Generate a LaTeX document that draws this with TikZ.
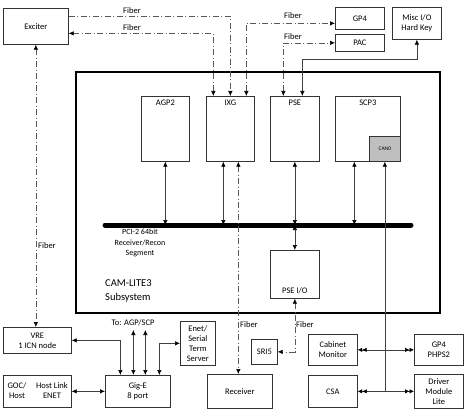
\documentclass[tikz,border=0pt]{standalone}
\usepackage{fontspec}
\setmainfont{Carlito}
\usetikzlibrary{arrows.meta}
\tikzset{
  box/.style={draw=black!80, line width=0.7pt, inner sep=0pt, anchor=north west, align=center, font=\fontsize{8.5}{10}\selectfont},
  tb/.style={font=\fontsize{8.5}{10}\selectfont, inner sep=1pt},
  fiber/.style={draw=black!65, line width=0.65pt, dash pattern=on 6pt off 2.5pt on 1pt off 2.5pt},
  conn/.style={draw=black!75, line width=0.65pt},
  tip/.style={{Latex[length=5pt,width=4.5pt,black]}-{Latex[length=5pt,width=4.5pt,black]}},
  endtip/.style={-{Latex[length=5pt,width=4.5pt,black]}},
  dtip/.style={{Latex[length=4.5pt,width=4.5pt,black] Latex[length=4.5pt,width=4.5pt,black]}-{Latex[length=4.5pt,width=4.5pt,black] Latex[length=4.5pt,width=4.5pt,black]}},
}
\begin{document}
\begin{tikzpicture}[x=1pt,y=-1pt]
\useasboundingbox (0,0) rectangle (469,412);
% main box
\draw[line width=2.6pt] (76,72) rectangle (440,313);
% boxes top
\node[box, minimum width=65pt, minimum height=36pt] (exc) at (3,8) {Exciter};
\node[box, minimum width=49pt, minimum height=22pt] (gp4) at (335,7) {GP4};
\node[box, minimum width=49pt, minimum height=17pt] (pac) at (335,34) {PAC};
\node[box, minimum width=49pt, minimum height=32pt] (misc) at (392,7) {Misc I/O\\Hard Key};
% inner boxes
\node[box, minimum width=48pt, minimum height=65pt, label={[anchor=north,tb,yshift=-3pt]north:AGP2}] (agp) at (141,96) {};
\node[box, minimum width=48pt, minimum height=65pt, label={[anchor=north,tb,yshift=-3pt]north:IXG}] (ixg) at (206,96) {};
\node[box, minimum width=49pt, minimum height=65pt, label={[anchor=north,tb,yshift=-3pt]north:PSE}] (pse) at (270,96) {};
\node[box, minimum width=65pt, minimum height=65pt, label={[anchor=north,tb,yshift=-3pt]north:SCP3}] (scp) at (335,96) {};
\node[box, fill=black!25, minimum width=31pt, minimum height=25pt, font=\fontsize{5.5}{6}\selectfont] (can) at (369,136) {CAN0};
\node[box, minimum width=49pt, minimum height=48pt, label={[anchor=south,tb,yshift=4pt]south:PSE I/O}] (pseio) at (270,250) {};
% bus
\coordinate (busL) at (105,225);
\coordinate (busR) at (411,225);
\draw[line width=5pt, line cap=round] (busL) -- (busR);
\node[tb, align=center, anchor=north, font=\fontsize{8}{10.5}\selectfont] (buslbl) at (140,228) {PCI-2 64bit\\Receiver/Recon\\Segment};
\node[anchor=north west, align=left, inner sep=0pt, font=\fontsize{10.5}{14}\selectfont] (cam) at (105,279) {CAM-LITE3\\Subsystem};
% bottom boxes
\node[box, minimum width=68pt, minimum height=26pt] (vre) at (3,327) {VRE\\1 ICN node};
\node[box, minimum width=68pt, minimum height=32pt] (goc) at (3,375) {};
\node[tb, align=center] (gocl) at (17,391) {GOC/\\Host};
\node[tb, align=center] (gocr) at (52,391) {Host Link\\ENET};
\node[box, minimum width=65pt, minimum height=32pt] (gig) at (105,375) {Gig-E\\8 port};
\node[box, minimum width=35pt, minimum height=44pt] (enet) at (180,321) {Enet/\\Serial\\Term\\Server};
\node[box, minimum width=65pt, minimum height=34pt] (rec) at (207,374) {Receiver};
\node[box, minimum width=26pt, minimum height=25pt] (sri) at (251,339) {SRI5};
\node[box, minimum width=49pt, minimum height=31pt] (cab) at (308,334) {Cabinet\\Monitor};
\node[box, minimum width=49pt, minimum height=31pt] (gpb) at (414,334) {GP4\\PHPS2};
\node[box, minimum width=49pt, minimum height=32pt] (csa) at (308,375) {CSA};
\node[box, minimum width=49pt, minimum height=34pt] (dml) at (414,374) {Driver\\Module\\Lite};
\node[tb] (tolbl) at (133,323) {To: AGP/SCP};
% fiber connectors top
\draw[fiber, endtip] ([yshift=10pt]exc.east) -| (ixg.north);
\draw[fiber, tip] ([yshift=-7pt]exc.east) -| ([xshift=-17pt]ixg.north);
\draw[fiber, tip] ([xshift=16pt]ixg.north) |- ([yshift=-5pt]gp4.west);
\draw[fiber, tip] ([xshift=-11.5pt]pse.north) |- (pac.west);
\draw[conn, tip] (misc.south) -- (misc.south |- 0,59) -| ([xshift=7.5pt]pse.north);
\node[tb] (f1) at (132,11) {Fiber};
\node[tb] (f2) at (132,28) {Fiber};
\node[tb] (f3) at (293,16) {Fiber};
\node[tb] (f4) at (293,37) {Fiber};
% bus connectors
\draw[conn, tip] (agp.south) -- (agp.south |- busL);
\draw[conn, tip] ([xshift=-7pt]ixg.south) -- ([xshift=-7pt]ixg.south |- busL);
\draw[conn, tip] (pse.south) -- (pse.south |- busL);
\draw[conn, tip] ([xshift=-13.5pt]scp.south) -- ([xshift=-13.5pt]scp.south |- busL);
\draw[conn, tip] (pse.south |- busL) -- (pseio.north);
% fiber lower
\draw[fiber, tip] ([xshift=8pt]ixg.south) -- ([xshift=8pt]ixg.south |- rec.north);
\node[tb, anchor=west] (f5) at (239,325) {Fiber};
\draw[fiber, tip] (pseio.south) |- (sri.east);
\node[tb, anchor=west] (f6) at (295,325) {Fiber};
\draw[fiber, tip] (exc.south) -- (exc.south |- vre.north);
\node[tb, anchor=west] (f7) at (37,246) {Fiber};
% CAN0 line
\draw[conn, endtip] (can.south |- csa.east) -- (can.south);
\draw[conn, dtip] (cab.east) -- (gpb.west);
\draw[conn, dtip] (csa.east) -- (dml.west);
% Gig-E connectors
\draw[conn, tip] (vre.east) -| ([xshift=-17.5pt]gig.north);
\draw[conn, tip] ([xshift=-4.5pt]gig.north) -- ++(0,-45);
\draw[conn, tip] ([xshift=7.5pt]gig.north) -- ++(0,-45);
\draw[conn, tip] (enet.west) -| ([xshift=21.5pt]gig.north);
\draw[conn, tip] (goc.east) -- (gig.west);
\end{tikzpicture}
\end{document}
